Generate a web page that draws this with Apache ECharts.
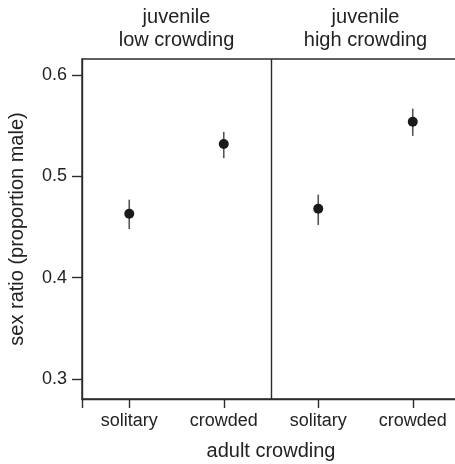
<!DOCTYPE html>
<html>
<head>
<meta charset="utf-8">
<script src="https://cdn.jsdelivr.net/npm/echarts@6/dist/echarts.min.js"></script>
<style>html,body{margin:0;padding:0;background:#fff;}#c{width:455px;height:464px;}</style>
</head>
<body>
<div id="c"></div>
<script>
var categories = ['solitary', 'crowded', 'solitary', 'crowded'];
var panels = ['juvenile\nlow crowding', 'juvenile\nhigh crowding'];
var means = [0.463, 0.532, 0.468, 0.554];
var lower = [0.448, 0.518, 0.452, 0.540];
var upper = [0.477, 0.544, 0.482, 0.567];
var yTicks = [0.3, 0.4, 0.5, 0.6];

var FONT = 'Liberation Sans, Arial, Helvetica, sans-serif';
var LINE = '#2b2b2b';
var TXT = '#222';

var pointData = means.map(function (v, i) { return [i + 0.5, v]; });
var barData = means.map(function (v, i) { return [i + 0.5, lower[i], upper[i]]; });

var chart = echarts.init(document.getElementById('c'), null, { renderer: 'canvas' });
chart.setOption({
  animation: false,
  backgroundColor: '#fff',
  textStyle: { fontFamily: FONT },
  grid: {
    left: 82, top: 59, width: 378, height: 340,
    outerBoundsMode: 'none', containLabel: false,
    show: true, borderColor: LINE, borderWidth: 1.4, backgroundColor: 'transparent'
  },
  xAxis: [{
    type: 'category', data: categories, position: 'bottom', boundaryGap: true,
    axisLine: { show: true, lineStyle: { color: LINE, width: 1.4 } },
    axisTick: { show: true, length: 9, alignWithLabel: true, interval: 0, lineStyle: { color: LINE, width: 1.4 } },
    axisLabel: { interval: 0, margin: 13, fontSize: 18, color: TXT, fontFamily: FONT },
    splitLine: { show: false },
    name: 'adult crowding', nameLocation: 'middle', nameGap: 42,
    nameTextStyle: { fontSize: 20, color: TXT, fontFamily: FONT }
  }, {
    type: 'value', min: 0, max: 4, position: 'bottom',
    axisLine: { show: false },
    axisTick: { show: true, length: 9, customValues: [0], lineStyle: { color: LINE, width: 1.4 } },
    axisLabel: { show: false },
    splitLine: { show: false }
  }, {
    type: 'value', min: 0, max: 4, position: 'top',
    axisLine: { show: false }, axisTick: { show: false }, splitLine: { show: false },
    axisLabel: {
      customValues: [1, 3], margin: 7, fontSize: 20, lineHeight: 23, color: TXT, fontFamily: FONT,
      formatter: function (v) { return panels[Math.floor(v / 2)]; }
    }
  }],
  yAxis: {
    type: 'value', min: 0.28, max: 0.616,
    axisLine: { show: true, lineStyle: { color: LINE, width: 1.4 } },
    axisTick: { show: true, length: 10, customValues: yTicks, lineStyle: { color: LINE, width: 1.4 } },
    axisLabel: {
      customValues: yTicks, margin: 15, fontSize: 18, color: TXT, fontFamily: FONT,
      formatter: function (v) { return v.toFixed(1); }
    },
    splitLine: { show: false },
    name: 'sex ratio (proportion male)', nameLocation: 'middle', nameGap: 55,
    nameTextStyle: { fontSize: 20, color: TXT, fontFamily: FONT }
  },
  series: [{
    type: 'custom',
    xAxisIndex: 1,
    data: barData,
    renderItem: function (params, api) {
      var x = api.value(0);
      var lo = api.coord([x, api.value(1)]);
      var hi = api.coord([x, api.value(2)]);
      return {
        type: 'line',
        shape: { x1: lo[0], y1: lo[1], x2: hi[0], y2: hi[1] },
        style: { stroke: '#555', lineWidth: 1.6 }
      };
    },
    z: 2
  }, {
    type: 'scatter',
    xAxisIndex: 1,
    data: pointData,
    symbol: 'circle',
    symbolSize: 10,
    itemStyle: { color: '#1a1a1a', opacity: 1 },
    z: 3,
    markLine: {
      silent: true, symbol: 'none', label: { show: false },
      lineStyle: { color: LINE, width: 1.4, type: 'solid' },
      data: [{ xAxis: 2 }]
    }
  }]
});
</script>
</body>
</html>
